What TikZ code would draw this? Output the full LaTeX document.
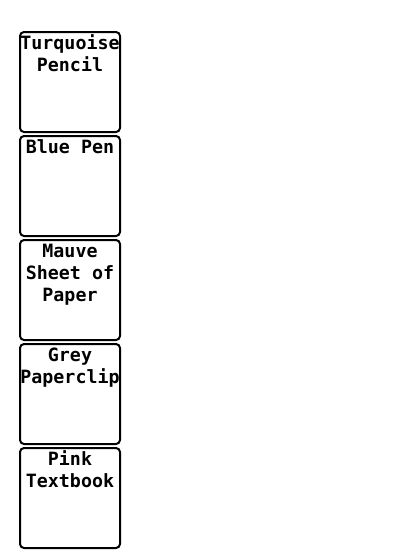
\documentclass[tikz,border=0pt]{standalone}
\usepackage{fontspec}
\setmonofont{DejaVu Sans Mono}
\begin{document}
\begin{tikzpicture}[x=1pt,y=-1pt,
  itembox/.style={draw=black,line width=2pt,rounded corners=4pt,minimum width=100pt,minimum height=100pt,inner sep=0pt,fill=white},
  itemtext/.style={anchor=north,align=center,inner sep=0pt,font=\fontsize{18.3}{22}\selectfont\ttfamily\bfseries}]
\useasboundingbox (0,0) rectangle (400,558);
\node[itembox] (b1) at (70,82) {};
\node[itembox] (b2) at (70,186) {};
\node[itembox] (b3) at (70,290) {};
\node[itembox] (b4) at (70,394) {};
\node[itembox] (b5) at (70,498) {};
\node[itemtext] (t1) at (70,34.1) {\strut Turquoise\\Pencil};
\node[itemtext] (t2) at (70,138.1) {\strut Blue Pen};
\node[itemtext] (t3) at (70,242.1) {\strut Mauve\\Sheet of\\Paper};
\node[itemtext] (t4) at (70,346.1) {\strut Grey\\Paperclip};
\node[itemtext] (t5) at (70,450.1) {\strut Pink\\Textbook};
\end{tikzpicture}
\end{document}
